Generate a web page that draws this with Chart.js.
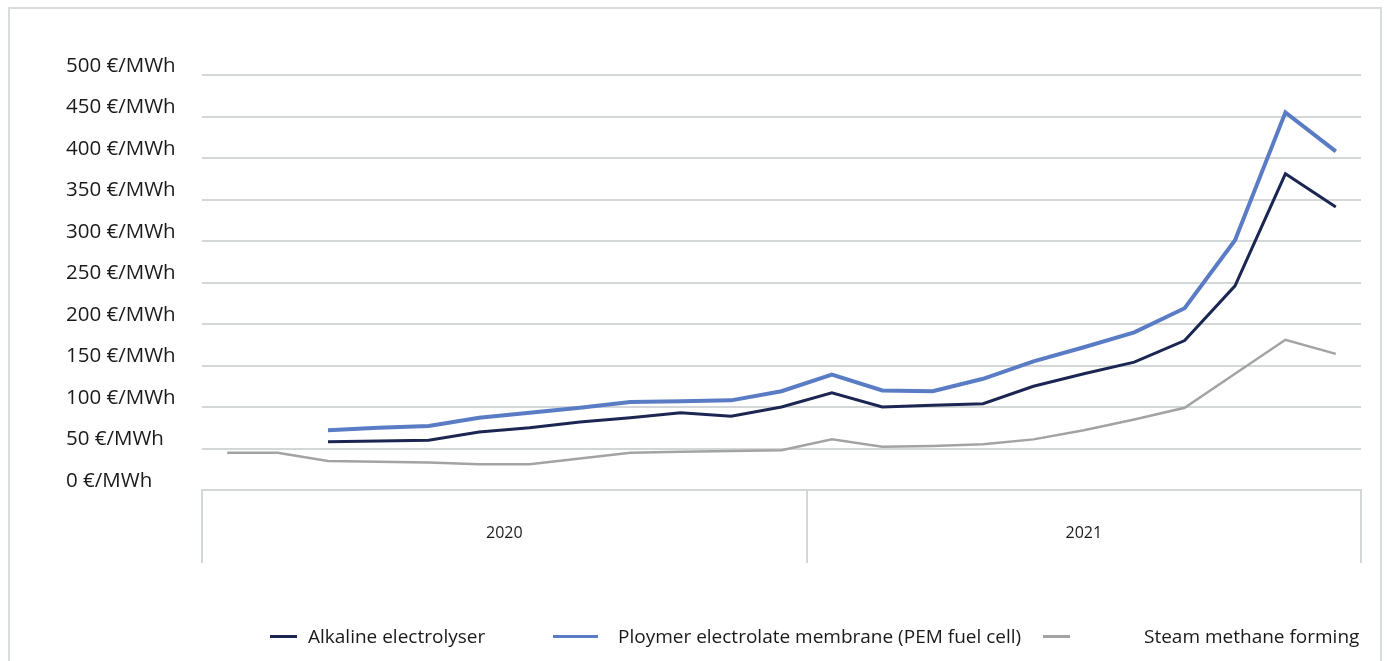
<!DOCTYPE html>
<html>
<head>
<meta charset="utf-8">
<script src="https://cdn.jsdelivr.net/npm/chart.js@4.4.0/dist/chart.umd.min.js"></script>
<style>
  html, body { margin: 0; padding: 0; background: #fff; }
  #wrap { position: relative; width: 1387px; height: 661px; overflow: hidden; }
  #frame { position: absolute; left: 8px; top: 7px; width: 1374px; height: 700px; border: 2px solid #d9dcdc; box-sizing: border-box; }
  #chart { position: absolute; left: 0; top: 0; }
  .swatch { position: absolute; height: 3px; top: 635px; }
  .label { position: absolute; top: 624px; line-height: 24px; font-family: "Open Sans", sans-serif; font-size: 19px; color: #1a1a1a; white-space: nowrap; }
</style>
</head>
<body>
<div id="wrap">
  <div id="frame"></div>
  <canvas id="chart" width="1387" height="661"></canvas>
  <div id="legend"></div>
</div>
<script>
  // 2020 Jan..Dec, 2021 Jan..Nov
  const months = ["Jan", "Feb", "Mar", "Apr", "May", "Jun", "Jul", "Aug", "Sep", "Oct", "Nov", "Dec",
                  "Jan", "Feb", "Mar", "Apr", "May", "Jun", "Jul", "Aug", "Sep", "Oct", "Nov"];
  const years = ["2020", "2021"];
  const monthsPerYear = [12, 11];

  // €/MWh
  const alkaline = [null, null, 58, 59, 60, 70, 75, 82, 87, 93, 89, 100,
                    117, 100, 102, 104, 125, 140, 154, 180, 246, 381, 341];
  const pem = [null, null, 72, 75, 77, 87, 93, 99, 106, 107, 108, 119,
               139, 120, 119, 134, 155, 172, 190, 219, 301, 455, 408];
  const steam = [45, 45, 35, 34, 33, 31, 31, 38, 45, 46, 47, 48,
                 61, 52, 53, 55, 61, 72, 85, 99, 140, 181, 164];

  const seriesNames = ["Alkaline electrolyser", "Ploymer electrolate membrane (PEM fuel cell)", "Steam methane forming"];
  const colors = ["#1c2653", "#5a7cc4", "#a3a3a3"];
  const widths = [3, 4, 2.5];

  const gridColor = "#d3d7d7";

  // year boxes on the axis: boundaries and centres in category units
  const boundaries = [-0.5];
  const centres = [];
  monthsPerYear.forEach((n) => {
    const start = boundaries[boundaries.length - 1];
    centres.push(start + n / 2);
    boundaries.push(start + n);
  });

  const labels = months.map((m, i) => m + " " + (i < monthsPerYear[0] ? years[0] : years[1]));

  Chart.defaults.font.family = "'Open Sans', sans-serif";
  Chart.defaults.color = "#1a1a1a";

  const ctx = document.getElementById("chart").getContext("2d");
  const chart = new Chart(ctx, {
    type: "line",
    data: {
      labels: labels,
      datasets: [alkaline, pem, steam].map((d, i) => ({
        label: seriesNames[i],
        data: d,
        borderColor: colors[i],
        backgroundColor: colors[i],
        borderWidth: widths[i],
        pointRadius: 0,
        tension: 0,
        fill: false,
      })),
    },
    options: {
      responsive: false,
      animation: false,
      layout: { padding: { left: 66, right: 26, top: 75, bottom: 98 } },
      plugins: {
        legend: { display: false },
        tooltip: { enabled: false },
      },
      scales: {
        x: {
          type: "category",
          offset: true,
          display: false,
        },
        years: {
          type: "linear",
          position: "bottom",
          min: boundaries[0],
          max: boundaries[boundaries.length - 1],
          afterBuildTicks: (scale) => {
            scale.ticks = boundaries.concat(centres).sort((a, b) => a - b).map((v) => ({ value: v }));
          },
          afterFit: (scale) => { scale.height = 73; },
          grid: {
            drawOnChartArea: false,
            tickLength: 73,
            lineWidth: 2,
            color: (c) => (c.tick && boundaries.includes(c.tick.value) ? gridColor : "rgba(0,0,0,0)"),
          },
          border: { display: true, color: gridColor, width: 2 },
          ticks: {
            autoSkip: false,
            maxRotation: 0,
            padding: -39,
            font: { size: 16 },
            callback: (v) => {
              const k = centres.indexOf(v);
              return k >= 0 ? years[k] : "";
            },
          },
        },
        y: {
          min: 0,
          max: 500,
          afterFit: (scale) => { scale.width = 136; },
          grid: { color: gridColor, lineWidth: 2, drawTicks: false },
          border: { display: false },
          ticks: {
            stepSize: 50,
            crossAlign: "far",
            labelOffset: -9,
            padding: 0,
            font: { size: 20.5 },
            callback: (v) => v + " €/MWh",
          },
        },
      },
    },
  });

  // legend drawn as html under the chart
  const swatchX = [270, 553, 1043];
  const swatchW = [27, 45, 27];
  const textX = [308, 618, 1144];
  const legend = document.getElementById("legend");
  chart.data.datasets.forEach((ds, i) => {
    const sw = document.createElement("div");
    sw.className = "swatch";
    sw.style.left = swatchX[i] + "px";
    sw.style.width = swatchW[i] + "px";
    sw.style.background = ds.borderColor;
    legend.appendChild(sw);
    const tx = document.createElement("div");
    tx.className = "label";
    tx.style.left = textX[i] + "px";
    tx.textContent = ds.label;
    legend.appendChild(tx);
  });
</script>
</body>
</html>
